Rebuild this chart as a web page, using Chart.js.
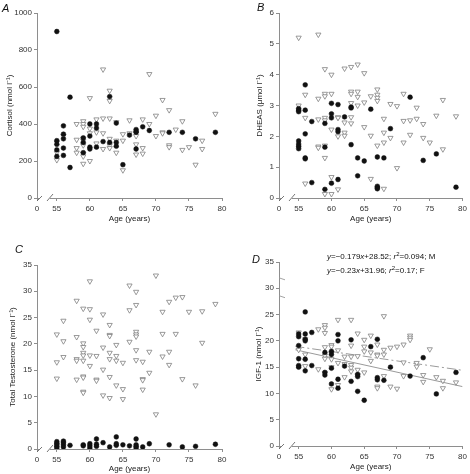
<!DOCTYPE html>
<html>
<head>
<meta charset="utf-8">
<script src="https://cdn.jsdelivr.net/npm/chart.js@4.4.0/dist/chart.umd.min.js"></script>
<style>
  body { margin: 0; background: #fff; }
  #wrap { position: relative; width: 470px; height: 474px; }
  canvas { position: absolute; }
</style>
</head>
<body>
<div id="wrap">
  <canvas id="chartA" width="235" height="237" style="left:0;top:0"></canvas>
  <canvas id="chartB" width="235" height="237" style="left:235px;top:0"></canvas>
  <canvas id="chartC" width="235" height="237" style="left:0;top:237px"></canvas>
  <canvas id="chartD" width="235" height="237" style="left:235px;top:237px"></canvas>
</div>
<script>
// x axis is broken: 52 is shown as "0"
const xTicks = [52, 55, 60, 65, 70, 75, 80];

// rows are [age, [values]]; F = filled circles, M = open triangles
const cortisolF = [
    [55, [900, 310, 290, 260, 225]], [56, [390, 345, 320, 270, 230]], [57, [545, 165]],
    [59, [325, 300, 245]], [60, [400, 335, 275, 265]], [61, [400, 378, 275]], [62, [305]],
    [63, [548, 300]], [64, [405, 300, 280]], [65, [180]], [66, [340]], [67, [370, 360, 355, 265]],
    [68, [385]], [69, [365]], [72, [355]], [74, [355]], [76, [320]], [79, [355]]
];
const cortisolM = [
    [55, [300, 245, 205]], [56, [335]], [58, [400, 315, 270, 245]],
    [59, [415, 400, 385, 320, 310, 285, 240, 225, 185]], [60, [540, 375, 350, 200]],
    [61, [425, 355, 295]], [62, [695, 430, 350, 265]], [63, [580, 525, 430, 320, 285, 270]],
    [64, [410, 310, 245]], [65, [345, 310, 150]], [66, [420, 350]], [67, [335, 290, 235]],
    [68, [425, 270, 240]], [69, [670, 400]], [70, [445, 335]], [71, [530, 355, 350]],
    [72, [475, 285, 275]], [73, [370]], [74, [415, 260]], [75, [275]], [76, [180]],
    [77, [310, 265]], [79, [455]]
];

const dheasF = [
    [55, [2.9, 2.85, 2.8, 1.85, 1.75, 1.68, 1.6]], [56, [3.67, 2.85, 2.08, 1.3, 1.27]], [57, [2.48, 0.5]],
    [59, [2.42, 1.65, 0.28]], [60, [3.07, 2.73, 2.6, 0.48]], [61, [3.03, 2.22, 2.15, 0.6]], [62, [2.63]],
    [63, [2.95, 2.92, 1.73]], [64, [1.3, 0.72]], [65, [1.2]], [66, [2.88]], [67, [1.33, 0.38, 0.33, 0.3]],
    [68, [1.3]], [69, [2.25]], [72, [3.27]], [74, [1.22]], [76, [1.43]], [79, [0.35]]
];
const dheasM = [
    [55, [5.2, 3.0]], [56, [3.35, 2.6, 0.47]], [58, [5.3, 3.22, 2.55, 1.67, 1.63]],
    [59, [4.18, 3.38, 3.3, 2.6, 2.52, 1.7, 1.3, 0.13]], [60, [4.0, 3.38, 2.22, 0.68, 0.13]],
    [61, [2.62, 2.6, 2.0, 0.28]], [62, [4.2, 2.45, 2.12, 2.02]], [63, [4.25, 3.45, 3.38, 3.08, 2.62, 2.42]],
    [64, [4.33, 3.45, 3.28, 3.0]], [65, [4.05, 3.1, 2.3]], [66, [3.3, 2.02, 0.62]],
    [67, [3.52, 3.35, 3.25, 3.15, 1.7]], [68, [2.57, 2.12, 1.8, 0.3]], [69, [3.05, 1.95]],
    [70, [2.98, 0.97]], [71, [3.38, 2.5, 1.8]], [72, [2.52, 2.05]], [73, [2.93, 2.57]],
    [74, [2.4, 1.95]], [75, [1.8]], [76, [2.67]], [77, [3.18, 1.58]], [79, [2.65]]
];

const testoF = [
    [55, [1.4, 1.1, 0.8, 0.5, 0.2]], [56, [1.5, 1.2, 0.8, 0.4]], [57, [0.7]], [59, [0.8, 0.6]],
    [60, [1.0, 0.6, 0.2]], [61, [1.9, 0.9, 0.5]], [62, [1.2]], [63, [0.4]], [64, [2.3, 1.0, 0.7]],
    [65, [0.8]], [66, [0.6]], [67, [1.9, 0.8, 0.5, 0.2]], [68, [0.4]], [69, [1.0]], [72, [0.8]],
    [74, [0.4]], [76, [0.5]], [79, [0.9]]
];
const testoM = [
    [55, [21.8, 16.5, 13.4]], [56, [24.4, 20.5, 17.5]], [58, [28.2, 21.3, 17.1, 16.8, 13.2]],
    [59, [26.7, 20.1, 19.4, 18.3, 17.8, 16.8, 13.8, 13.6, 10.9, 10.7]], [60, [31.9, 26.6, 24.6, 17.8, 15.8]],
    [61, [22.5, 17.7, 13.2, 13.0]], [62, [25.6, 19.3, 15.1, 10.2]], [63, [23.6, 21.7, 21.5, 18.3, 17.1, 13.7, 9.7]],
    [64, [19.8, 17.7, 16.8, 12.1]], [65, [16.4, 11.4, 9.5]], [66, [31.1, 26.4, 20.4]],
    [67, [29.9, 27.4, 22.3, 21.8, 21.4, 18.8, 16.9]], [68, [16.6, 13.3, 13.1, 11.3]], [69, [18.5, 14.5]],
    [70, [33.0, 6.6]], [71, [26.1, 21.9, 17.6]], [72, [28.0, 18.5, 16.0]], [73, [28.8, 21.9]],
    [74, [28.9, 13.3]], [75, [26.1]], [76, [12.1]], [77, [26.2, 20.2]], [79, [27.6]]
];

const igfF = [
    [55, [21.3, 20.8, 19.1, 16.6, 15.3, 15.0]], [56, [25.5, 21.3, 20.3, 20.0, 16.5, 14.3]], [57, [21.6, 15.3]],
    [59, [17.8, 14.0, 13.5]], [60, [18.0, 17.4, 14.8, 11.8]], [61, [21.2, 20.0, 12.7, 11.0]], [62, [15.2]],
    [63, [20.2, 12.3]], [64, [13.6, 13.2, 10.4]], [65, [8.7]], [66, [18.9]], [67, [20.3, 13.0, 12.6]],
    [68, [12.5]], [69, [15.0]], [72, [13.3]], [74, [16.8]], [76, [9.9]], [79, [14.0]]
];
const igfM = [
    [55, [21.6, 18.3]], [56, [20.3, 17.4, 15.2]], [58, [22.2, 14.6]],
    [59, [23.0, 22.5, 21.5, 18.8, 17.2, 16.6, 13.9]], [60, [19.2, 18.9, 17.6, 16.5, 15.0, 10.8]],
    [61, [24.0, 18.2, 15.8, 11.6]], [62, [17.0, 15.6, 13.1]], [63, [24.0, 19.1, 17.0, 15.4, 14.9, 14.2]],
    [64, [21.4, 17.1, 14.5, 13.5]], [65, [20.2, 18.9, 18.0, 14.0]], [66, [21.0, 17.8, 16.2]],
    [67, [19.3, 17.4, 17.2, 11.3, 11.0]], [68, [24.7, 18.3, 17.4, 13.3]], [69, [18.7, 11.3]],
    [70, [18.9, 10.9]], [71, [19.3, 15.9, 13.3]], [72, [21.0, 20.6, 20.2]], [73, [15.8, 15.1]],
    [74, [13.5, 12.2]], [75, [18.4]], [76, [13.1]], [77, [12.4, 11.0]], [79, [12.1]]
];
// regression lines
const fitM = [[54.5, 18.95], [80, 14.4]];
const fitF = [[54.5, 18.3], [80, 11.3]];
const eqM = [['y', 1], ['=\u22120.179', 0], ['x', 1], ['+28.52; ', 0], ['r', 1], ['2', 2], ['=0.094; M', 0]];
const eqF = [['y', 1], ['=\u22120.23', 0], ['x', 1], ['+31.96; ', 0], ['r', 1], ['2', 2], ['=0.17; F', 0]];

const FONT = 'Liberation Sans, Arial, sans-serif';
const AXIS = '#8e8e8e';

function toPoints(rows) {
    const pts = [];
    rows.forEach(r => r[1].forEach(v => pts.push({ x: r[0], y: v })));
    return pts;
}

function circles(rows) {
    return {
        data: toPoints(rows), pointStyle: 'circle', pointRadius: 2.4,
        backgroundColor: '#111', borderColor: '#111', borderWidth: 0.5
    };
}

function triangles(rows) {
    return {
        data: toPoints(rows), pointStyle: 'triangle', rotation: 180, pointRadius: 3,
        backgroundColor: '#fff', borderColor: '#808080', borderWidth: 0.8
    };
}

const breakPlugin = {
    id: 'decor',
    afterDraw(chart) {
        const c = chart.ctx;
        const o = chart.options.plugins.decor;
        const xs = chart.scales.x;
        const y = xs.top;
        const x0 = xs.getPixelForValue(52);
        c.save();
        // gap and slashes on the x axis
        c.fillStyle = '#fff';
        c.fillRect(x0 + 2, y - 2, 11, 4);
        c.strokeStyle = '#666';
        c.lineWidth = 0.9;
        c.beginPath();
        c.moveTo(x0, y + 3); c.lineTo(x0 + 5, y - 2);
        c.moveTo(x0 + 10, y + 3); c.lineTo(x0 + 16, y - 4);
        c.stroke();
        // y axis break marks (panel D)
        if (o.yBreaks) {
            const ys = chart.scales.y;
            c.strokeStyle = '#999';
            c.beginPath();
            o.yBreaks.forEach(v => {
                const py = ys.getPixelForValue(v);
                c.moveTo(ys.right, py - 1);
                c.lineTo(ys.right + 6, py + 1);
            });
            c.stroke();
        }
        // panel letter
        c.fillStyle = '#111';
        c.font = 'italic 11px ' + FONT;
        c.fillText(o.letter, o.lx, o.ly);
        // equations
        if (o.eqs) {
            o.eqs.forEach((eq, i) => {
                let x = o.ex;
                const base = o.ey + i * 14;
                eq.forEach(p => {
                    const sup = p[1] === 2;
                    c.font = (p[1] === 1 ? 'italic ' : '') + (sup ? '6px ' : '8px ') + FONT;
                    c.fillText(p[0], x, sup ? base - 3 : base);
                    x += c.measureText(p[0]).width;
                });
            });
        }
        c.restore();
    }
};

function makeChart(id, cfg) {
    const datasets = [circles(cfg.f), triangles(cfg.m)];
    (cfg.lines || []).forEach(l => datasets.push({
        type: 'line', data: l.pts.map(p => ({ x: p[0], y: p[1] })),
        borderColor: '#9a9a9a', borderWidth: 1, borderDash: l.dash, pointRadius: 0, fill: false
    }));
    return new Chart(document.getElementById(id), {
        type: 'scatter',
        data: { datasets: datasets },
        options: {
            responsive: false,
            animation: false,
            layout: { padding: cfg.pad },
            plugins: {
                legend: { display: false },
                tooltip: { enabled: false },
                decor: cfg.decor
            },
            scales: {
                x: {
                    type: 'linear', min: 52, max: 80,
                    afterBuildTicks: s => { s.ticks = xTicks.map(v => ({ value: v })); },
                    afterFit: s => { s.height = cfg.xh; },
                    ticks: {
                        autoSkip: false, maxRotation: 0, padding: 3, color: '#333',
                        font: { family: FONT, size: 8 },
                        callback: v => v === 52 ? '0' : String(v)
                    },
                    grid: { drawOnChartArea: false, tickLength: 3, color: AXIS },
                    border: { color: AXIS },
                    title: { display: true, text: 'Age (years)', color: '#222', padding: 0, font: { family: FONT, size: 8 } }
                },
                y: {
                    min: 0, max: cfg.ymax,
                    afterFit: s => { s.width = cfg.yw; },
                    ticks: {
                        stepSize: cfg.step, padding: 2, color: '#333',
                        font: { family: FONT, size: 8 },
                        callback: v => String(v)
                    },
                    grid: { drawOnChartArea: false, tickLength: 3, color: AXIS },
                    border: { color: AXIS },
                    title: { display: true, text: cfg.ytitle, color: '#222', padding: 0, font: { family: FONT, size: 8 } }
                }
            }
        },
        plugins: [breakPlugin]
    });
}

makeChart('chartA', {
    f: cortisolF, m: cortisolM, ymax: 1000, step: 200, yw: 32, xh: 26,
    pad: { left: 5, right: 13, top: 13, bottom: 13 },
    ytitle: 'Cortisol (nmol l\u207B\u00B9)',
    decor: { letter: 'A', lx: 2, ly: 12 }
});
makeChart('chartB', {
    f: dheasF, m: dheasM, ymax: 6, step: 1, yw: 24, xh: 26,
    pad: { left: 20, right: 6, top: 13, bottom: 13 },
    ytitle: 'DHEAS (\u03BCmol l\u207B\u00B9)',
    decor: { letter: 'B', lx: 22, ly: 11 }
});
makeChart('chartC', {
    f: testoF, m: testoM, ymax: 35, step: 5, yw: 29, xh: 25,
    pad: { left: 8, right: 13, top: 28, bottom: 0 },
    ytitle: 'Total Testosterone (nmol l\u207B\u00B9)',
    decor: { letter: 'C', lx: 15, ly: 16 }
});
makeChart('chartD', {
    f: igfF, m: igfM, ymax: 35, step: 5, yw: 25, xh: 26,
    pad: { left: 19, right: 6, top: 25, bottom: 2 },
    ytitle: 'IGF-1 (nmol l\u207B\u00B9)',
    lines: [{ pts: fitM, dash: [9, 3, 2, 3] }, { pts: fitF, dash: [] }],
    decor: { letter: 'D', lx: 17, ly: 26, yBreaks: [31.8, 28.4], eqs: [eqM, eqF], ex: 92, ey: 22 }
});
</script>
</body>
</html>
